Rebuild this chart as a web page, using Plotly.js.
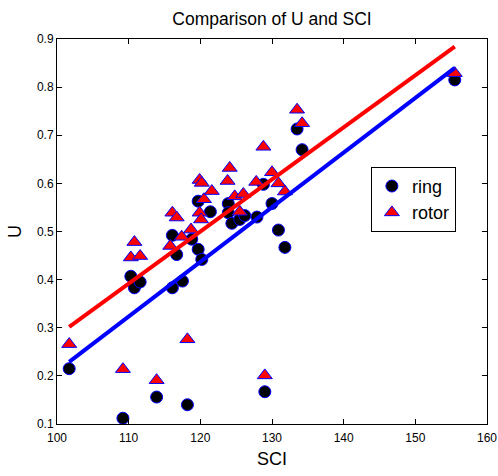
<!DOCTYPE html>
<html>
<head>
<meta charset="utf-8">
<script src="https://cdn.plot.ly/plotly-3.0.1.min.js"></script>
<style>html,body{margin:0;padding:0;background:#fff;}#chart{width:498px;height:476px;}</style>
</head>
<body>
<div id="chart"></div>
<script>
const ringSCI = [101.7,109.2,110.3,110.8,111.6,113.9,116.1,116.1,116.7,117.5,118.2,118.8,119.7,120.2,119.7,121.4,123.9,123.9,124.4,125.5,126.2,127.9,128.8,129.0,130.0,130.9,131.8,133.5,134.2,155.5];
const ringU   = [0.215,0.112,0.407,0.383,0.395,0.156,0.383,0.492,0.452,0.397,0.140,0.484,0.463,0.442,0.563,0.541,0.558,0.539,0.517,0.525,0.533,0.530,0.598,0.167,0.558,0.503,0.467,0.713,0.670,0.815];
const rotorSCI = [101.7,109.2,110.3,110.8,111.6,113.9,115.8,116.1,116.7,117.4,118.2,118.7,119.9,120.1,119.9,120.2,120.5,121.6,123.8,124.1,124.8,125.5,126.0,127.8,128.8,129.0,130.0,130.9,131.8,133.5,134.2,155.5];
const rotorU   = [0.266,0.214,0.446,0.478,0.449,0.191,0.470,0.539,0.529,0.489,0.276,0.504,0.539,0.525,0.607,0.601,0.567,0.584,0.605,0.632,0.573,0.541,0.578,0.603,0.676,0.201,0.623,0.600,0.583,0.753,0.725,0.829];
const fitSCI = [101.7,155.5];
const ringFit = [0.229,0.840];
const rotorFit = [0.302,0.884];

const traces = [
  {x: ringSCI, y: ringU, type:'scatter', mode:'markers', name:'ring', legendgroup:'a',
   marker:{symbol:'circle', size:12, color:'#000000', line:{color:'#0000ff', width:1}}},
  {x: rotorSCI, y: rotorU, type:'scatter', mode:'markers', name:'rotor', legendgroup:'b',
   marker:{symbol:'triangle-up', size:13, color:'#ff0000', line:{color:'#0000ff', width:1}}},
  {x: fitSCI, y: ringFit, type:'scatter', mode:'lines', showlegend:false,
   line:{color:'#0000ff', width:4}},
  {x: fitSCI, y: rotorFit, type:'scatter', mode:'lines', showlegend:false,
   line:{color:'#ff0000', width:4}}
];

const axisCommon = {
  showgrid:false, zeroline:false, showline:true, linecolor:'#000', linewidth:1,
  mirror:'ticks', ticks:'inside', ticklen:5, tickcolor:'#000',
  tickfont:{family:'Liberation Sans, Arial, sans-serif', size:12, color:'#000'}
};

const layout = {
  width:498, height:476,
  margin:{l:57, r:11, t:39, b:52},
  paper_bgcolor:'#fff', plot_bgcolor:'#fff',
  font:{family:'Liberation Sans, Arial, sans-serif', color:'#000'},
  title:{text:'Comparison of U and SCI', font:{size:17.5, color:'#000'}, x:0.5, xref:'paper', y:0.961, yanchor:'middle'},
  xaxis: Object.assign({}, axisCommon, {range:[100,160], dtick:10, tick0:100, ticklabelstandoff:3,
    title:{text:'SCI', font:{size:18}, standoff:7}}),
  yaxis: Object.assign({}, axisCommon, {range:[0.1,0.9], dtick:0.1, tick0:0.1, tickformat:'.1f',
    title:{text:'U', font:{size:18}, standoff:10}}),
  showlegend:true,
  legend:{x:0.73, y:0.668, xanchor:'left', yanchor:'top', bgcolor:'#fff', bordercolor:'#000', borderwidth:1,
    font:{size:18, color:'#000'}, traceorder:'grouped', tracegroupgap:0, entrywidth:95, entrywidthmode:'pixels'}
};

Plotly.newPlot('chart', traces, layout, {staticPlot:true, displayModeBar:false});
</script>
</body>
</html>
